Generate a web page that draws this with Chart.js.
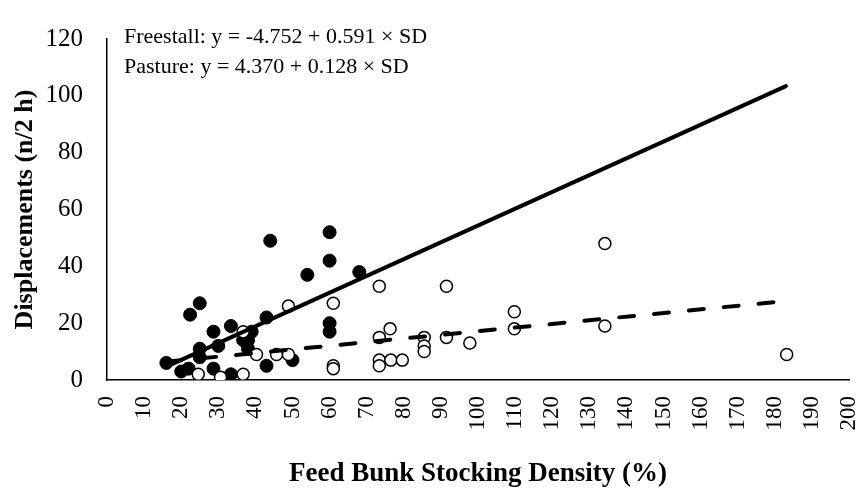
<!DOCTYPE html>
<html>
<head>
<meta charset="utf-8">
<script src="https://cdn.jsdelivr.net/npm/chart.js@4"></script>
<style>
  html, body { margin: 0; padding: 0; background: #fff; }
  #wrap { width: 861px; height: 491px; position: relative; }
</style>
</head>
<body>
<div id="wrap"><canvas id="sdChart"></canvas></div>
<script>
// Freestall (filled points)
const freestallX = [16, 20, 22, 22.4, 25, 25, 25, 28.7, 30, 28.7, 33.4, 33.4, 36.7, 39, 38, 38, 43, 43, 50, 54, 60, 60, 60, 68, 44, 60];
const freestallY = [6, 3, 4, 23, 27, 11, 8, 17, 12, 4, 19, 2, 14, 17, 11, 14, 22, 5, 7, 37, 42, 20, 17, 38, 49, 52];

// Pasture (open points)
const pastureX = [24.6, 30.6, 36.7, 36.7, 40.3, 48.9, 45.7, 48.9, 61, 61, 61, 73.4, 91.5, 134.2, 76.3, 73.4, 73.4, 73.4, 76.5, 79.6, 85.5, 85.5, 85.5, 91.5, 97.8, 109.8, 109.8, 134.2, 183.2];
const pastureY = [2, 1, 2, 17, 9, 26, 9, 9, 27, 5, 4, 33, 33, 48, 18, 15, 7, 5, 7, 7, 15, 12, 10, 15, 13, 24, 18, 19, 9];

// regression lines (coefficients from the chart text)
const lineX = [16, 183];
const freestallFit = { a: -4.752, b: 0.591 };
const pastureFit = { a: 4.370, b: 0.128 };

const equations = [
    'Freestall: y = -4.752 + 0.591 \u00d7 SD',
    'Pasture: y = 4.370 + 0.128 \u00d7 SD'
];

function toPoints(xs, ys) {
    return xs.map((x, i) => ({ x: x, y: ys[i] }));
}

function fitPoints(fit) {
    return lineX.map(x => ({ x: x, y: fit.a + fit.b * x }));
}

const equationPlugin = {
    id: 'equations',
    afterDraw(chart) {
        const ctx = chart.ctx;
        const area = chart.chartArea;
        ctx.save();
        ctx.fillStyle = '#000';
        ctx.font = '22px "Liberation Serif", serif';
        ctx.textBaseline = 'middle';
        ctx.fillText(equations[0], area.left + 17, 37);
        ctx.fillText(equations[1], area.left + 17, 67);
        ctx.restore();
    }
};

const ctx = document.getElementById('sdChart').getContext('2d');
window.sdChart = new Chart(ctx, {
    type: 'scatter',
    data: {
        datasets: [
            {
                type: 'line',
                label: 'Freestall fit',
                data: fitPoints(freestallFit),
                borderColor: '#000',
                borderWidth: 4,
                borderCapStyle: 'round',
                pointRadius: 0,
                fill: false,
                order: 0
            },
            {
                type: 'line',
                label: 'Pasture fit',
                data: fitPoints(pastureFit),
                borderColor: '#000',
                borderWidth: 4,
                borderDash: [15, 20],
                borderCapStyle: 'round',
                pointRadius: 0,
                fill: false,
                order: 0
            },
            {
                label: 'Pasture',
                data: toPoints(pastureX, pastureY),
                backgroundColor: '#fff',
                borderColor: '#000',
                borderWidth: 1.5,
                pointRadius: 6,
                order: 1
            },
            {
                label: 'Freestall',
                data: toPoints(freestallX, freestallY),
                backgroundColor: '#000',
                borderColor: '#000',
                borderWidth: 1,
                pointRadius: 6.5,
                order: 2
            }
        ]
    },
    options: {
        responsive: true,
        maintainAspectRatio: false,
        animation: false,
        layout: { padding: { top: 22, right: 12, left: 0, bottom: 0 } },
        plugins: {
            legend: { display: false },
            tooltip: { enabled: false }
        },
        scales: {
            x: {
                type: 'linear',
                min: 0,
                max: 200,
                grid: { display: false, drawTicks: false },
                border: { display: true, color: '#000', width: 1.5 },
                ticks: {
                    stepSize: 10,
                    autoSkip: false,
                    minRotation: 90,
                    maxRotation: 90,
                    padding: 16,
                    color: '#000',
                    font: { family: '"Liberation Serif", serif', size: 23 }
                },
                title: {
                    display: true,
                    text: 'Feed Bunk Stocking Density (%)',
                    color: '#000',
                    padding: { top: 0, bottom: 1 },
                    font: { family: '"Liberation Serif", serif', size: 27, weight: 'bold' }
                },
                afterFit(scale) {
                    scale.height = 111;
                    scale.paddingLeft = 0;
                    scale.paddingRight = 0;
                }
            },
            y: {
                min: 0,
                max: 120,
                grid: { display: false, drawTicks: false },
                border: { display: true, color: '#000', width: 1.5 },
                ticks: {
                    stepSize: 20,
                    padding: 24,
                    color: '#000',
                    font: { family: '"Liberation Serif", serif', size: 25 }
                },
                title: {
                    display: true,
                    text: 'Displacements (n/2 h)',
                    color: '#000',
                    padding: { top: 10, bottom: 0 },
                    font: { family: '"Liberation Serif", serif', size: 26, weight: 'bold' }
                },
                afterFit(scale) { scale.width = 107; }
            }
        }
    },
    plugins: [equationPlugin]
});
</script>
</body>
</html>
